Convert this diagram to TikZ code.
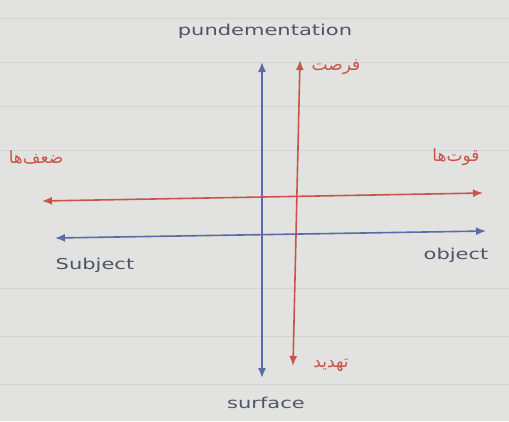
\documentclass[tikz,border=0pt]{standalone}
\usepackage{fontspec}
\setmainfont{DejaVu Sans}
\newfontfamily\arabicfont[Script=Arabic]{DejaVu Sans}
\TeXXeTstate=1
\usetikzlibrary{arrows.meta}
\definecolor{paper}{HTML}{E2E3E0}
\definecolor{ruleline}{HTML}{D3D5D2}
\definecolor{penblue}{HTML}{5C6BA6}
\definecolor{penred}{HTML}{C9544C}
\definecolor{pengrey}{HTML}{4E5566}
\tikzset{
  axis/.style={line width=1.6pt,{Latex[length=10pt,width=8pt]}-{Latex[length=10pt,width=8pt]}},
  bluepen/.style={axis,draw=penblue},
  redpen/.style={axis,draw=penred},
  engl/.style={text=pengrey,font=\fontsize{15}{17}\selectfont,xscale=1.4,inner sep=0pt},
  fa/.style={text=penred,font=\arabicfont\fontsize{17}{19}\selectfont,inner sep=0pt}
}
\begin{document}
\begin{tikzpicture}[x=1pt,y=-1pt]
\fill[paper] (0,0) rectangle (509,421);
\useasboundingbox (0,0) rectangle (509,421);
\foreach \yy in {18,62,106,150,288,336,384}{
  \draw[ruleline,line width=0.8pt] (0,\yy) -- (509,\yy);
}
% coordinates
\coordinate (bvt) at (262,62);
\coordinate (bvb) at (262,378);
\coordinate (rvt) at (300,60);
\coordinate (rvb) at (293,366);
\coordinate (rhl) at (42,201);
\coordinate (rhr) at (483,193);
\coordinate (bhl) at (55,238);
\coordinate (bhr) at (486,231);
\draw[bluepen] (bvt) -- (bvb);
\draw[redpen] (rvt) -- (rvb);
\draw[redpen] (rhl) -- (rhr);
\draw[bluepen] (bhl) -- (bhr);
% labels
\node[engl] (fund) at (265,31) {pundementation};
\node[engl] (surf) at (266,403) {surface};
\node[engl] (subj) at (95,265) {Subject};
\node[engl] (obj) at (456,255) {object};
\node[fa] (opp) at (336,67) {\beginR فرصت\endR};
\node[fa] (weak) at (36,157) {\beginR ضعف‌ها\endR};
\node[fa] (str) at (456,157) {\beginR قوت‌ها\endR};
\node[fa] (thr) at (331,365) {\beginR تهدید\endR};
\end{tikzpicture}
\end{document}
